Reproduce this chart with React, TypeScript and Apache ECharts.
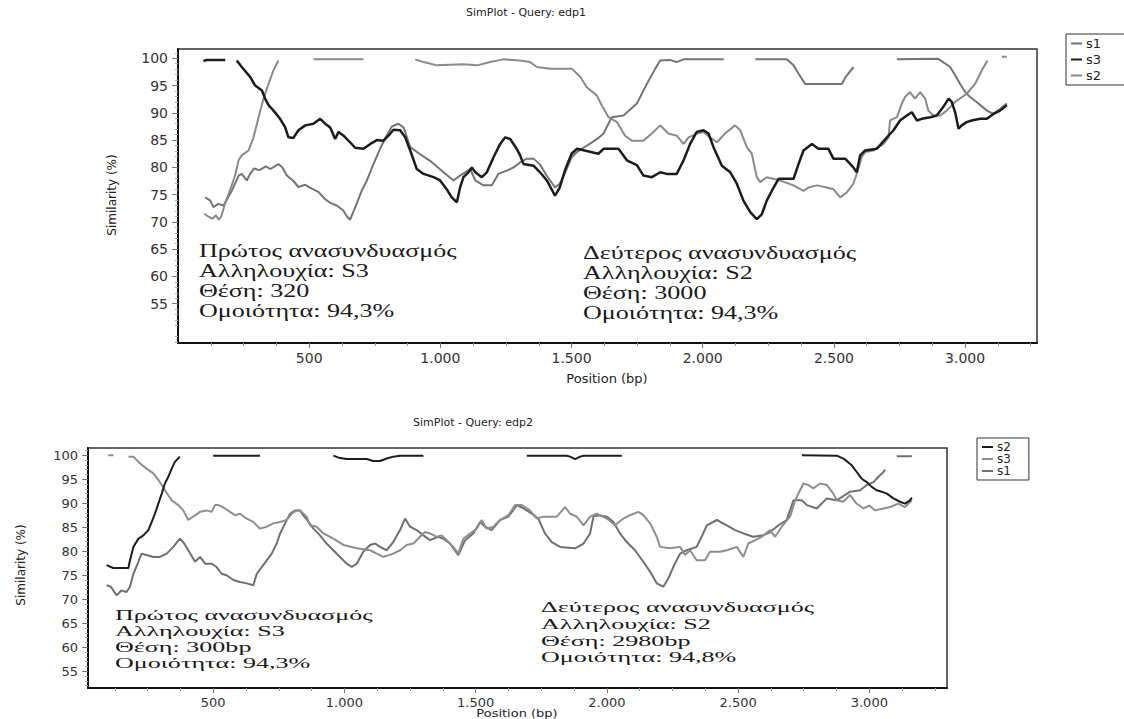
import React, { useEffect, useRef } from "react";
import * as echarts from "echarts";

type Pt = [number, number | null];

// ---------- tick labels ----------
const X_MAJOR = [500, 1000, 1500, 2000, 2500, 3000];
const Y_MAJOR = [55, 60, 65, 70, 75, 80, 85, 90, 95, 100];

// ---------- chart 1 (edp1) ----------
const TOP_TITLE = "SimPlot - Query: edp1";
const TOP_LEGEND = ["s1", "s3", "s2"];
const TOP_S1: Pt[] = [
  [104, 74.5], [123, 73.9], [135, 72.7], [154, 73.3], [174, 73.0], [205, 75.7], [231, 78.5], [243, 78.8],
  [262, 77.6], [275, 78.8], [290, 79.8], [310, 79.5], [335, 80.2], [352, 79.7], [383, 80.6], [397, 80.0],
  [415, 78.5], [440, 77.5], [459, 76.4], [485, 76.8], [510, 76.1], [535, 75.5], [560, 74.2], [580, 73.5],
  [605, 73.0], [630, 72.1], [644, 71.0], [656, 70.4], [675, 72.6], [700, 75.7], [720, 77.6], [745, 80.6],
  [770, 83.4], [795, 85.8], [815, 87.5], [840, 88.0], [860, 87.3], [885, 83.7], [920, 82.5], [961, 81.2],
  [1012, 79.1], [1050, 77.6], [1075, 78.5], [1114, 79.7], [1133, 77.6], [1164, 76.7], [1196, 76.7],
  [1221, 78.8], [1253, 79.4], [1279, 80.0], [1304, 80.9], [1330, 81.6], [1355, 81.6], [1380, 80.5],
  [1405, 78.5], [1437, 76.3], [1455, 77.0], [1475, 79.0], [1500, 81.8], [1520, 82.8], [1545, 83.6],
  [1575, 84.5], [1600, 85.3], [1622, 86.2], [1653, 89.2], [1698, 89.5], [1749, 91.7], [1787, 95.3],
  [1819, 98.1], [1838, 99.6], [1875, 99.7], [1900, 99.3], [1927, 99.8], [2080, 99.8], [2081, null],
  [2200, 99.8], [2320, 99.8], [2346, 98.7], [2365, 97.2], [2390, 95.3], [2530, 95.3], [2545, 96.6],
  [2575, 98.4], [2576, null], [2740, 99.8], [2898, 99.9], [2943, 98.4], [2962, 96.9], [2981, 95.3],
  [3000, 93.8], [3019, 92.9], [3051, 91.7], [3083, 90.4], [3108, 89.8], [3133, 90.7], [3159, 91.7],
];
const TOP_S2: Pt[] = [
  [100, 71.5], [115, 71.0], [130, 70.6], [145, 71.2], [155, 70.4], [165, 71.0], [180, 73.5], [199, 75.9],
  [218, 78.6], [231, 81.3], [243, 82.2], [269, 83.1], [288, 85.5], [307, 89.2], [326, 92.6], [345, 95.3],
  [364, 97.8], [383, 99.6], [384, null], [516, 99.8], [707, 99.8], [708, null], [904, 99.8], [936, 99.3],
  [987, 98.7], [1088, 98.9], [1139, 98.7], [1190, 99.3], [1240, 99.8], [1304, 99.6], [1342, 99.3],
  [1368, 98.4], [1418, 98.1], [1501, 98.1], [1533, 96.6], [1558, 94.7], [1596, 93.2], [1615, 91.4],
  [1641, 89.2], [1673, 88.3], [1704, 85.8], [1730, 84.9], [1774, 84.9], [1806, 86.2], [1838, 87.7],
  [1869, 86.2], [1901, 85.8], [1927, 84.3], [1946, 85.5], [1978, 86.2], [2003, 86.5], [2028, 85.5],
  [2054, 84.6], [2085, 86.2], [2123, 87.7], [2143, 86.8], [2168, 83.7], [2187, 82.5], [2206, 78.2],
  [2219, 77.3], [2244, 78.2], [2295, 77.6], [2346, 76.7], [2384, 75.7], [2403, 76.3], [2435, 76.7],
  [2473, 76.3], [2498, 76.0], [2524, 74.5], [2549, 75.4], [2574, 77.0], [2587, 78.8], [2606, 81.9],
  [2619, 82.8], [2651, 83.1], [2689, 84.3], [2708, 85.5], [2714, 88.6], [2740, 89.2], [2759, 91.7],
  [2771, 92.9], [2790, 93.8], [2809, 92.6], [2829, 93.8], [2848, 92.6], [2860, 90.4], [2879, 89.5],
  [2905, 89.5], [2930, 90.4], [2962, 92.0], [3006, 93.5], [3038, 95.3], [3064, 97.8], [3085, 99.6],
  [3086, null], [3140, 100.3], [3159, 100.3],
];
const TOP_S3: Pt[] = [
  [97, 99.5], [110, 99.7], [180, 99.7], [181, null], [224, 99.6], [243, 98.4], [275, 96.6], [294, 95.0],
  [320, 94.1], [332, 92.6], [345, 91.4], [364, 90.4], [389, 88.9], [408, 87.4], [421, 85.5], [440, 85.4],
  [459, 86.8], [485, 87.7], [516, 88.0], [542, 88.9], [561, 88.0], [580, 87.3], [599, 85.2], [612, 86.5],
  [631, 85.8], [656, 84.6], [675, 83.6], [707, 83.4], [733, 84.3], [758, 85.0], [783, 84.9], [802, 85.8],
  [821, 86.9], [847, 86.8], [866, 85.5], [885, 83.1], [910, 79.7], [936, 78.8], [974, 78.2], [999, 77.6],
  [1024, 76.0], [1043, 74.5], [1063, 73.6], [1075, 76.3], [1088, 78.2], [1107, 79.1], [1120, 80.0],
  [1133, 79.1], [1158, 78.2], [1177, 79.1], [1203, 81.9], [1228, 84.3], [1247, 85.5], [1266, 85.2],
  [1291, 83.4], [1304, 82.2], [1317, 80.6], [1355, 80.3], [1380, 79.1], [1406, 77.6], [1437, 74.8],
  [1455, 76.3], [1475, 79.5], [1500, 82.5], [1520, 83.4], [1558, 83.0], [1602, 82.5], [1622, 83.4],
  [1679, 83.4], [1711, 81.3], [1749, 80.4], [1774, 78.5], [1806, 78.2], [1838, 79.1], [1863, 78.8],
  [1901, 78.8], [1927, 81.3], [1952, 84.3], [1977, 86.5], [2003, 86.8], [2022, 86.2], [2041, 83.7],
  [2073, 80.3], [2105, 79.1], [2130, 77.0], [2155, 73.9], [2181, 71.8], [2206, 70.5], [2225, 71.4],
  [2244, 73.9], [2270, 76.3], [2289, 77.9], [2346, 77.9], [2365, 80.6], [2384, 83.1], [2416, 84.3],
  [2441, 83.4], [2479, 83.4], [2498, 81.6], [2543, 81.6], [2574, 80.0], [2587, 79.1], [2600, 82.2],
  [2619, 83.1], [2663, 83.4], [2702, 85.5], [2727, 86.8], [2752, 88.6], [2778, 89.5], [2797, 90.1],
  [2816, 88.6], [2835, 88.9], [2867, 89.2], [2892, 89.5], [2917, 91.1], [2937, 92.6], [2949, 92.0],
  [2962, 90.1], [2975, 87.1], [2987, 87.7], [3006, 88.3], [3025, 88.6], [3057, 88.9], [3083, 88.9],
  [3108, 89.8], [3133, 90.4], [3159, 91.4],
];
const TOP_NOTE_A = ["Πρώτος ανασυνδυασμός", "Αλληλουχία: S3", "Θέση: 320", "Ομοιότητα: 94,3%"];
const TOP_NOTE_B = ["Δεύτερος ανασυνδυασμός", "Αλληλουχία: S2", "Θέση: 3000", "Ομοιότητα: 94,3%"];

// ---------- chart 2 (edp2) ----------
const BOT_TITLE = "SimPlot - Query: edp2";
const BOT_LEGEND = ["s2", "s3", "s1"];
const BOT_S2: Pt[] = [
  [94, 77.1], [119, 76.5], [177, 76.5], [183, 78.1], [196, 80.9], [215, 82.6], [234, 83.3], [253, 84.4],
  [266, 86.1], [278, 87.8], [291, 89.9], [304, 92.0], [316, 94.1], [329, 95.5], [342, 97.2], [354, 98.6],
  [373, 99.7], [374, null], [500, 99.9], [678, 99.9], [679, null], [958, 99.9], [983, 99.4], [1009, 99.2],
  [1085, 99.2], [1110, 98.8], [1136, 98.8], [1161, 99.3], [1186, 99.7], [1212, 99.9], [1301, 99.9],
  [1302, null], [1695, 99.9], [1847, 99.9], [1860, 99.7], [1879, 99.2], [1898, 99.7], [1911, 99.9],
  [2057, 99.9], [2058, null], [2743, 100.0], [2876, 99.9], [2901, 99.3], [2920, 98.5], [2933, 97.9],
  [2952, 96.5], [2971, 95.1], [2990, 94.4], [3009, 93.4], [3028, 92.7], [3047, 92.4], [3067, 92.0],
  [3092, 91.0], [3117, 90.3], [3136, 89.9], [3155, 90.6], [3162, 91.2],
];
const BOT_S3: Pt[] = [
  [100, 100.0], [120, 100.0], [121, null], [177, 99.7], [196, 99.7], [215, 98.6], [246, 97.2], [272, 96.2],
  [297, 94.4], [316, 92.7], [342, 90.6], [367, 89.6], [386, 88.5], [405, 86.5], [424, 87.2], [450, 88.2],
  [475, 88.5], [494, 88.2], [507, 89.6], [520, 89.6], [545, 88.9], [564, 88.2], [583, 87.5], [602, 87.8],
  [628, 86.8], [653, 86.1], [678, 84.7], [704, 85.1], [729, 85.8], [755, 86.1], [780, 86.5], [799, 87.8],
  [818, 88.5], [831, 88.5], [856, 87.2], [869, 85.4], [894, 85.1], [920, 83.7], [958, 82.6], [996, 81.3],
  [1047, 80.6], [1098, 80.2], [1123, 79.5], [1148, 78.8], [1186, 79.5], [1212, 80.2], [1237, 81.3],
  [1263, 81.6], [1288, 83.0], [1307, 84.0], [1326, 83.7], [1352, 83.0], [1371, 83.3], [1390, 82.3],
  [1415, 80.9], [1434, 79.5], [1453, 82.6], [1504, 84.7], [1523, 86.5], [1542, 84.7], [1568, 85.1],
  [1593, 86.5], [1625, 87.5], [1650, 89.6], [1676, 89.6], [1707, 88.5], [1733, 86.8], [1758, 87.2],
  [1809, 87.2], [1841, 89.2], [1860, 87.8], [1885, 87.2], [1911, 85.4], [1936, 87.2], [1961, 87.8],
  [2000, 86.8], [2031, 85.4], [2063, 86.8], [2088, 87.5], [2120, 88.2], [2139, 87.5], [2165, 85.8],
  [2190, 83.0], [2203, 80.9], [2241, 80.6], [2279, 80.9], [2298, 79.2], [2317, 80.2], [2342, 78.1],
  [2374, 78.1], [2393, 79.9], [2431, 79.9], [2457, 80.2], [2495, 80.9], [2520, 78.8], [2539, 81.6],
  [2565, 82.3], [2590, 83.0], [2622, 84.4], [2641, 83.0], [2666, 85.1], [2698, 87.2], [2717, 90.6],
  [2749, 94.1], [2768, 93.8], [2787, 93.1], [2812, 94.1], [2838, 93.8], [2863, 92.0], [2876, 90.6],
  [2900, 90.3], [2927, 91.7], [2950, 90.0], [2978, 88.9], [3000, 89.5], [3022, 88.5], [3054, 88.9],
  [3080, 89.2], [3110, 89.9], [3136, 89.2], [3162, 90.6],
];
const BOT_S1: Pt[] = [
  [94, 72.9], [110, 72.6], [132, 70.8], [150, 71.8], [170, 71.5], [183, 72.6], [196, 75.3], [215, 77.8],
  [227, 79.5], [246, 79.2], [272, 78.8], [297, 78.8], [323, 79.5], [348, 80.9], [373, 82.6], [386, 81.9],
  [405, 80.2], [431, 77.8], [450, 78.8], [469, 77.4], [494, 77.4], [513, 76.7], [532, 75.3], [551, 75.0],
  [577, 74.0], [602, 73.6], [628, 73.3], [653, 72.9], [666, 75.3], [685, 76.7], [704, 78.1], [723, 79.5],
  [742, 81.6], [755, 83.7], [774, 85.8], [793, 87.8], [812, 88.5], [831, 88.5], [843, 87.5], [863, 86.1],
  [882, 84.7], [907, 83.3], [932, 81.6], [958, 80.2], [983, 78.8], [1009, 77.4], [1028, 76.7], [1047, 77.4],
  [1072, 79.9], [1098, 81.3], [1117, 81.6], [1136, 80.9], [1161, 80.2], [1186, 81.9], [1212, 84.4],
  [1231, 86.8], [1250, 85.1], [1275, 84.4], [1301, 83.3], [1326, 82.3], [1358, 83.0], [1377, 82.6],
  [1402, 81.6], [1434, 79.2], [1460, 82.3], [1491, 83.7], [1517, 86.1], [1536, 85.1], [1561, 84.4],
  [1593, 86.5], [1625, 87.2], [1657, 89.6], [1682, 88.9], [1714, 87.8], [1739, 86.8], [1764, 83.7],
  [1790, 81.9], [1822, 80.9], [1879, 80.6], [1911, 81.6], [1936, 83.7], [1949, 87.2], [1968, 87.5],
  [2000, 87.2], [2025, 86.1], [2050, 83.7], [2076, 81.9], [2107, 80.2], [2139, 77.8], [2165, 75.7],
  [2190, 73.3], [2215, 72.6], [2234, 74.3], [2253, 76.7], [2279, 79.5], [2304, 80.2], [2342, 80.9],
  [2361, 83.0], [2381, 85.4], [2419, 86.5], [2457, 85.4], [2489, 84.4], [2520, 83.7], [2558, 83.0],
  [2596, 83.3], [2622, 84.0], [2654, 85.4], [2685, 86.5], [2711, 90.6], [2743, 90.6], [2762, 89.6],
  [2800, 88.9], [2838, 91.0], [2876, 90.6], [2927, 92.4], [2965, 92.7], [2990, 93.8], [3016, 94.4],
  [3035, 95.5], [3054, 96.5], [3060, 97.0], [3061, null], [3105, 99.8], [3162, 99.8],
];
const BOT_NOTE_A = ["Πρώτος ανασυνδυασμός", "Αλληλουχία: S3", "Θέση: 300bp", "Ομοιότητα: 94,3%"];
const BOT_NOTE_B = ["Δεύτερος ανασυνδυασμός", "Αλληλουχία: S2", "Θέση: 2980bp", "Ομοιότητα: 94,8%"];

const X_LABEL = "Position (bp)";
const Y_LABEL = "Similarity (%)";

// ---------- helpers ----------
const SANS = "'DejaVu Sans', 'Liberation Sans', Arial, sans-serif";
const SERIF = "'Liberation Serif', 'DejaVu Serif', serif";
const fmtX = (v: number) =>
  v >= 1000 ? `${Math.floor(v / 1000)}.${String(v % 1000).padStart(3, "0")}` : String(v);
const conv = (d: Pt[]) => d.map(([x, y]) => [x, y === null ? "-" : y]);
const range = (a: number, b: number, s: number, skip: number) => {
  const r: number[] = [];
  for (let v = a; v <= b; v += s) if (v % skip !== 0) r.push(v);
  return r;
};
const X_MINOR = range(125, 3250, 125, 500);
const Y_MINOR = range(48, 101, 1, 5);

function axesFor(grid: number, xmin: number, xmax: number, ymin: number, ymax: number, fs: number) {
  const xs = [
    {
      type: "value", gridIndex: grid, position: "bottom", min: xmin, max: xmax,
      axisLine: { show: true, onZero: false, lineStyle: { color: "#111", width: 2 } },
      axisTick: { show: true, customValues: X_MAJOR, length: 5, lineStyle: { color: "#777" } },
      axisLabel: { customValues: X_MAJOR, formatter: fmtX, color: "#333", fontSize: fs, fontFamily: SANS, margin: 8 },
      splitLine: { show: false },
    },
    {
      type: "value", gridIndex: grid, position: "bottom", min: xmin, max: xmax,
      axisLine: { show: false },
      axisTick: { show: true, customValues: X_MINOR, length: 3, lineStyle: { color: "#999" } },
      axisLabel: { show: false },
      splitLine: { show: false },
    },
  ];
  const ys = [
    {
      type: "value", gridIndex: grid, position: "left", min: ymin, max: ymax,
      axisLine: { show: true, onZero: false, lineStyle: { color: "#111", width: 2 } },
      axisTick: { show: true, customValues: Y_MAJOR, length: 6, lineStyle: { color: "#777" } },
      axisLabel: { customValues: Y_MAJOR, color: "#333", fontSize: fs, fontFamily: SANS, margin: 10 },
      splitLine: { show: false },
    },
    {
      type: "value", gridIndex: grid, position: "left", min: ymin, max: ymax,
      axisLine: { show: false },
      axisTick: { show: true, customValues: Y_MINOR, length: 3, lineStyle: { color: "#aaa" } },
      axisLabel: { show: false },
      splitLine: { show: false },
    },
  ];
  return { xs, ys };
}

function line(name: string, data: Pt[], color: string, width: number, xi: number, yi: number) {
  return {
    type: "line", name, data: conv(data), xAxisIndex: xi, yAxisIndex: yi,
    showSymbol: false, symbol: "none", connectNulls: false, silent: true,
    lineStyle: { color, width }, itemStyle: { color },
  };
}

function textEl(text: string, x: number, y: number, font: string, size: number, opts: any = {}) {
  return {
    type: "text", x, y, silent: true,
    rotation: opts.rotation || 0, scaleX: opts.scaleX || 1, scaleY: opts.scaleY || 1,
    style: {
      text, fill: opts.fill || "#222", fontFamily: font, fontSize: size,
      align: opts.align || "left", textAlign: opts.align || "left",
      verticalAlign: "middle", textVerticalAlign: "middle",
    },
  };
}

function note(lines: string[], x: number, ys: number[], scaleY: number) {
  return lines.map((t, i) => textEl(t, x, ys[i], SERIF, 18, { scaleX: 1.45, scaleY, fill: "#1a1a1a" }));
}

function legend(names: string[], left: number, top: number, size: number, gap: number, padR: number) {
  return {
    data: names, orient: "vertical", left, top, selectedMode: false,
    icon: "rect", itemWidth: 11, itemHeight: 2, itemGap: gap,
    padding: [3, padR, 3, 5], borderColor: "#333", borderWidth: 1, backgroundColor: "#fff",
    formatter: (n: string) => n.trim(),
    textStyle: { fontSize: size, color: "#222", fontFamily: SANS, padding: [0, 0, 0, -1] },
  };
}

export default function App() {
  const ref = useRef<HTMLDivElement>(null);
  useEffect(() => {
    document.body.style.margin = "0";
    const chart = echarts.init(ref.current!, null, { renderer: "svg" });
    const top = axesFor(0, 0, 3274, 47.8, 101.7, 14);
    const bot = axesFor(1, 23, 3296, 51.5, 101.5, 13);
    chart.setOption({
      animation: false,
      backgroundColor: "#fff",
      grid: [
        { left: 178, top: 49, width: 859, height: 294, show: true, borderColor: "#333", borderWidth: 1.5, backgroundColor: "transparent" },
        { left: 88, top: 448, width: 859, height: 240, show: true, borderColor: "#333", borderWidth: 1.5, backgroundColor: "transparent" },
      ],
      xAxis: [...top.xs, ...bot.xs],
      yAxis: [...top.ys, ...bot.ys],
      legend: [
        legend(TOP_LEGEND, 1066, 34, 13, 3, 40),
        legend(BOT_LEGEND.map((n) => n + " "), 977, 438, 12, 0, 18),
      ],
      series: [
        line("s1", TOP_S1, "#747474", 2, 0, 0),
        line("s2", TOP_S2, "#8a8a8a", 2, 0, 0),
        line("s3", TOP_S3, "#1c1c1c", 2.5, 0, 0),
        line("s1 ", BOT_S1, "#707070", 2, 2, 2),
        line("s3 ", BOT_S3, "#8e8e8e", 2, 2, 2),
        line("s2 ", BOT_S2, "#1c1c1c", 2, 2, 2),
      ],
      graphic: [
        textEl(TOP_TITLE, 526, 12, SANS, 11, { align: "center" }),
        textEl(X_LABEL, 607, 378, SANS, 13, { align: "center" }),
        textEl(Y_LABEL, 112, 195, SANS, 12, { align: "center", rotation: Math.PI / 2 }),
        ...note(TOP_NOTE_A, 199, [251, 271, 291, 311], 1),
        ...note(TOP_NOTE_B, 583, [253, 273, 293, 313], 1),
        textEl(BOT_TITLE, 473, 422, SANS, 11, { align: "center" }),
        textEl(X_LABEL, 517, 713, SANS, 13, { align: "center", scaleY: 0.85 }),
        textEl(Y_LABEL, 21, 565, SANS, 12, { align: "center", rotation: Math.PI / 2 }),
        ...note(BOT_NOTE_A, 115, [615, 631, 647, 663], 0.8),
        ...note(BOT_NOTE_B, 541, [607, 624, 641, 657], 0.8),
      ],
    });
    return () => chart.dispose();
  }, []);
  return <div ref={ref} style={{ width: 1124, height: 719, position: "absolute", left: 0, top: 0 }} />;
}
